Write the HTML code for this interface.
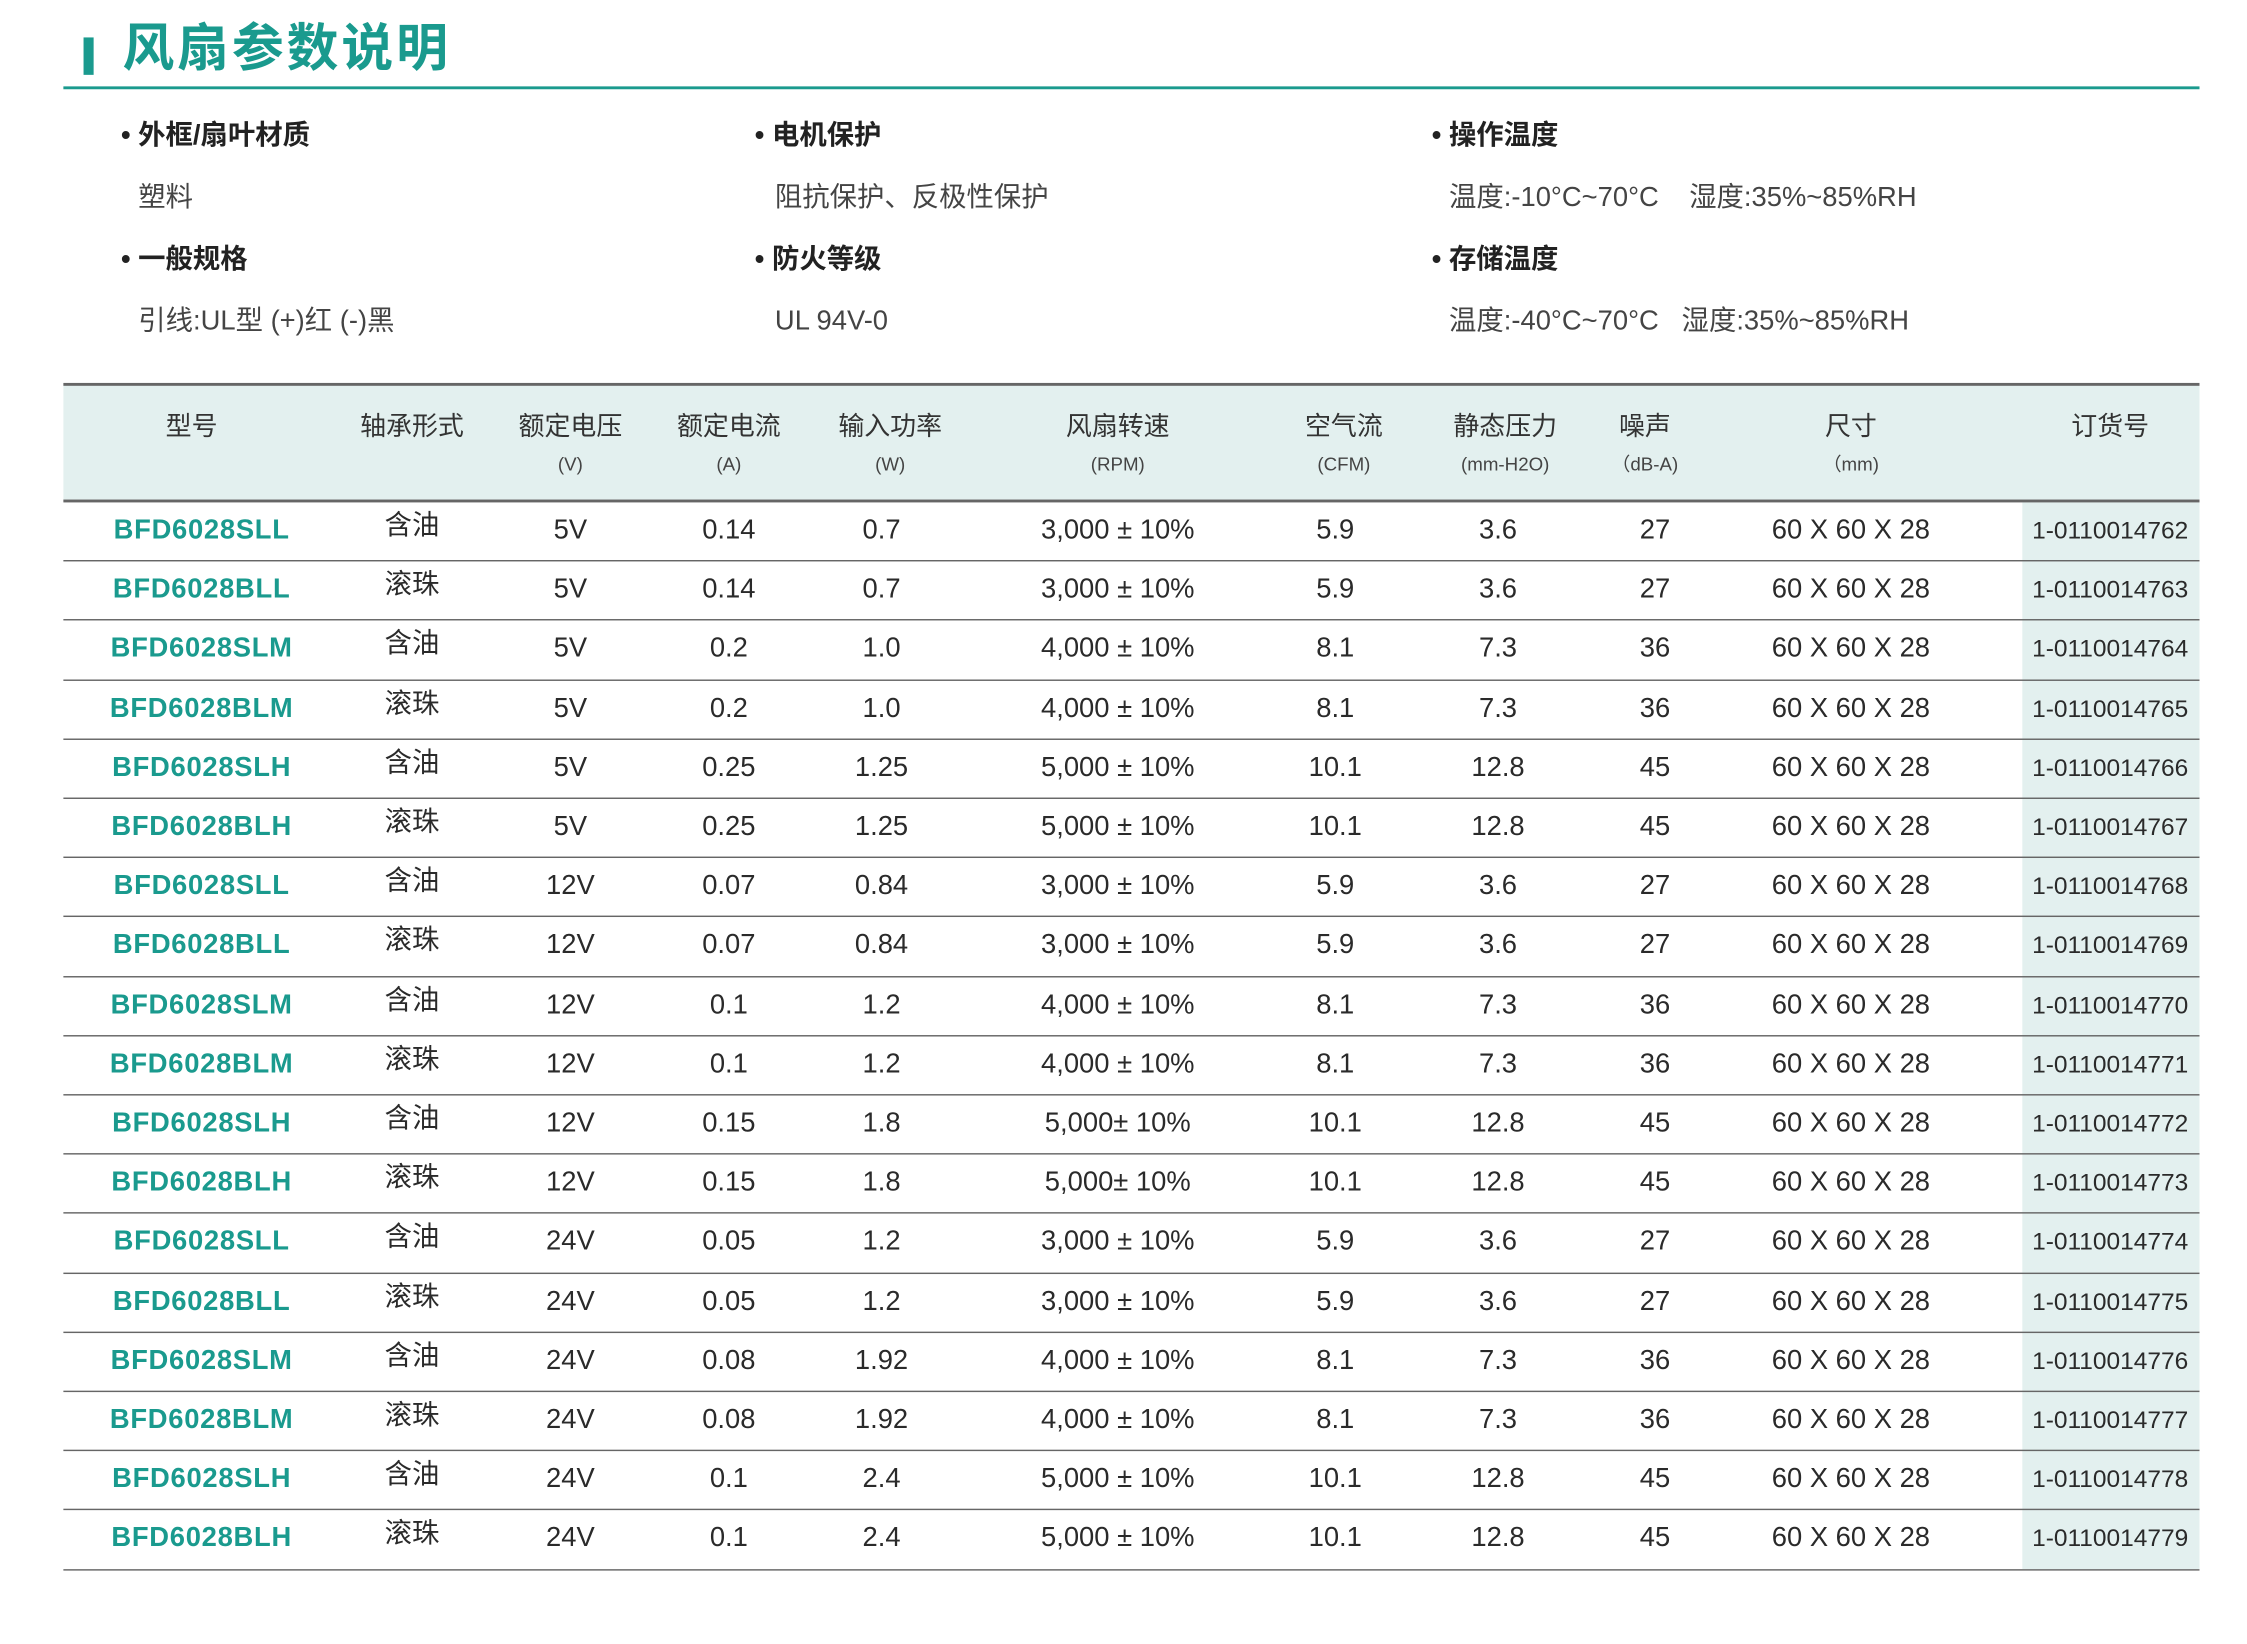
<!DOCTYPE html>
<html><head><meta charset="utf-8">
<style>
html,body{margin:0;padding:0;background:#fff;width:2247px;height:1644px;overflow:hidden}
#wrap{position:absolute;left:0;top:0;width:1560px;height:1142px;transform:scale(1.4404,1.4396);transform-origin:0 0;font-family:"Liberation Sans","Noto Sans CJK SC",sans-serif;color:#2a2a2a}
.a{position:absolute;white-space:nowrap;line-height:1.2}
.c{transform:translateX(-50%)}
.h{font-size:19px;font-weight:bold;color:#222}
.v{font-size:19px;color:#444}
.th{font-size:18px;color:#333;top:286px}
.sub{font-size:13px;color:#444;top:315px}
.d{font-size:19px;color:#2a2a2a}
.m{color:#1a9a8e;font-weight:bold;letter-spacing:0.5px}
.ln{position:absolute;left:44px;width:1483px;height:1px;background:#666}
</style></head><body>
<div id="wrap">
<div class="a" style="left:58px;top:26px;width:7px;height:26px;background:#1a9a8e"></div>
<div class="a" style="left:85px;top:12px;font-size:36px;font-weight:bold;color:#1a9a8e;letter-spacing:2px">风扇参数说明</div>
<div class="a" style="left:44px;top:60px;width:1483px;height:2px;background:#1a9a8e"></div>

<div class="a h" style="left:84px;top:84px">• 外框/扇叶材质</div>
<div class="a v" style="left:96px;top:127px">塑料</div>
<div class="a h" style="left:84px;top:170px">• 一般规格</div>
<div class="a v" style="left:96px;top:213px">引线:UL型 (+)红 (-)黑</div>
<div class="a h" style="left:524px;top:84px">• 电机保护</div>
<div class="a v" style="left:538px;top:127px">阻抗保护、反极性保护</div>
<div class="a h" style="left:524px;top:170px">• 防火等级</div>
<div class="a v" style="left:538px;top:213px">UL 94V-0</div>
<div class="a h" style="left:994px;top:84px">• 操作温度</div>
<div class="a v" style="left:1006px;top:127px">温度:-10°C~70°C&nbsp;&nbsp;&nbsp;&nbsp;湿度:35%~85%RH</div>
<div class="a h" style="left:994px;top:170px">• 存储温度</div>
<div class="a v" style="left:1006px;top:213px">温度:-40°C~70°C&nbsp;&nbsp;&nbsp;湿度:35%~85%RH</div>

<div class="a" style="left:44px;top:266px;width:1483px;height:82px;background:#e3f0ef"></div>
<div class="a" style="left:1404px;top:349px;width:123px;height:741px;background:#e3f0ef"></div>
<div class="ln" style="top:266px;height:2px"></div>
<div class="ln" style="top:347px;height:2px"></div>
<div id="tbl"></div>
</div>
<script>
const headers=["型号","轴承形式","额定电压","额定电流","输入功率","风扇转速","空气流","静态压力","噪声","尺寸","订货号"];
const subs=["","","(V)","(A)","(W)","(RPM)","(CFM)","(mm-H2O)","（dB-A)","（mm)",""];
const models=["BFD6028SLL","BFD6028BLL","BFD6028SLM","BFD6028BLM","BFD6028SLH","BFD6028BLH","BFD6028SLL","BFD6028BLL","BFD6028SLM","BFD6028BLM","BFD6028SLH","BFD6028BLH","BFD6028SLL","BFD6028BLL","BFD6028SLM","BFD6028BLM","BFD6028SLH","BFD6028BLH"];
const bearings=["含油","滚珠","含油","滚珠","含油","滚珠","含油","滚珠","含油","滚珠","含油","滚珠","含油","滚珠","含油","滚珠","含油","滚珠"];
const voltages=["5V","5V","5V","5V","5V","5V","12V","12V","12V","12V","12V","12V","24V","24V","24V","24V","24V","24V"];
const currents=["0.14","0.14","0.2","0.2","0.25","0.25","0.07","0.07","0.1","0.1","0.15","0.15","0.05","0.05","0.08","0.08","0.1","0.1"];
const powers=["0.7","0.7","1.0","1.0","1.25","1.25","0.84","0.84","1.2","1.2","1.8","1.8","1.2","1.2","1.92","1.92","2.4","2.4"];
const speeds=["3,000 ± 10%","3,000 ± 10%","4,000 ± 10%","4,000 ± 10%","5,000 ± 10%","5,000 ± 10%","3,000 ± 10%","3,000 ± 10%","4,000 ± 10%","4,000 ± 10%","5,000± 10%","5,000± 10%","3,000 ± 10%","3,000 ± 10%","4,000 ± 10%","4,000 ± 10%","5,000 ± 10%","5,000 ± 10%"];
const airflows=["5.9","5.9","8.1","8.1","10.1","10.1","5.9","5.9","8.1","8.1","10.1","10.1","5.9","5.9","8.1","8.1","10.1","10.1"];
const pressures=["3.6","3.6","7.3","7.3","12.8","12.8","3.6","3.6","7.3","7.3","12.8","12.8","3.6","3.6","7.3","7.3","12.8","12.8"];
const noises=["27","27","36","36","45","45","27","27","36","36","45","45","27","27","36","36","45","45"];
const sizes=Array(18).fill("60 X 60 X 28");
const orders=["1-0110014762","1-0110014763","1-0110014764","1-0110014765","1-0110014766","1-0110014767","1-0110014768","1-0110014769","1-0110014770","1-0110014771","1-0110014772","1-0110014773","1-0110014774","1-0110014775","1-0110014776","1-0110014777","1-0110014778","1-0110014779"];
const colNames=["model","bearing","voltage","current","power","speed","airflow","pressure","noise","size","order-no"];
const hx=[133,286,396,506,618,776,933,1045,1142,1285,1465];
const dx=[140,286,396,506,612,776,927,1040,1149,1285,1465];
const cols=[models,bearings,voltages,currents,powers,speeds,airflows,pressures,noises,sizes,orders];
const T=document.getElementById('tbl');
function mk(cls,txt,x,y,st){const e=document.createElement('div');e.className='a c '+cls;e.textContent=txt;e.style.left=x+'px';if(y!==null)e.style.top=y+'px';if(st)e.style.cssText+=st;T.appendChild(e);return e;}
headers.forEach((h,i)=>{
 const e=mk('th',h,hx[i],null);
 
 
 if(subs[i]){const s=mk('sub',subs[i],hx[i],null);
 
 }
});
const RH=41.2, top0=349;
for(let r=0;r<models.length;r++){
 const y=top0+RH*r+9;
 cols.forEach((c,i)=>{
  let st='';
  if(i===10) st='font-size:17px;top:'+(y+1)+'px';
  if(i===1) st='top:'+(y-3)+'px';
  const e=mk('d'+(i===0?' m':''),c[r],dx[i],y,st);
  
  
 });
 const l=document.createElement('div');l.className='ln';l.style.top=(top0+RH*(r+1)-1)+'px';
 
 
 T.appendChild(l);
}
</script>
</body></html>
